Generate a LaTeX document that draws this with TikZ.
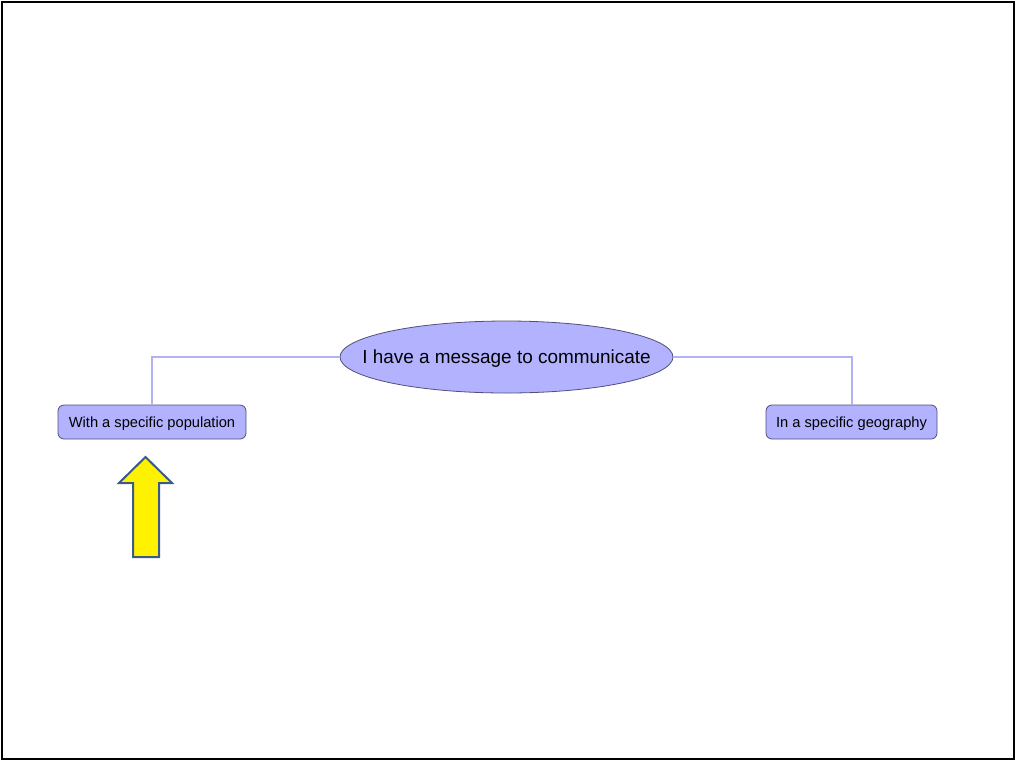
\documentclass[tikz,border=0pt]{standalone}
\usepackage{fontspec}
\setmainfont{Liberation Sans}
\usetikzlibrary{shapes.geometric}
\definecolor{bubble}{RGB}{178,178,255}
\definecolor{bubbleedge}{RGB}{80,80,120}
\definecolor{linkline}{RGB}{178,178,245}
\definecolor{arrowedge}{RGB}{60,90,130}
% text of fixed-size shapes: zero size, centred on the shape's middle
\newcommand{\flatlabel}[1]{\raisebox{-0.36em}[0pt][0pt]{\makebox[0pt]{#1}}}
\begin{document}
\begin{tikzpicture}[x=0.75pt,y=-0.75pt,
  topic/.style={ellipse,draw=bubbleedge,fill=bubble,line width=0.6pt,inner sep=0pt,
    minimum width=249.75pt,minimum height=54pt,font=\fontsize{14.2pt}{17pt}\selectfont},
  leaf/.style={rectangle,rounded corners=4.5pt,draw=bubbleedge,fill=bubble,line width=0.6pt,
    inner sep=0pt,minimum height=25.5pt,font=\fontsize{11pt}{13pt}\selectfont},
  link/.style={draw=linkline,line width=1.5pt}]
\useasboundingbox (0,0) rectangle (1016,761);
\draw[line width=1.5pt] (1.7,1.7) rectangle (1013.6,759.3);
% branch corners
\coordinate (lc) at (152,357);
\coordinate (rc) at (851.5,357);
\node[topic] (root) at (506.5,357) {\flatlabel{I have a message to communicate}};
\node[leaf,minimum width=141pt] (pop) at (152,422) {\flatlabel{With a specific population}};
\node[leaf,minimum width=128.25pt] (geo) at (851.5,422) {\flatlabel{In a specific geography}};
\draw[link] (root.west) -- (lc) -- (pop.north);
\draw[link] (root.east) -- (rc) -- (geo.north);
% highlight arrow
\draw[fill=yellow,draw=arrowedge,line width=1.5pt,line join=miter]
  (145.5,457) -- (172,483) -- (159,483) -- (159,557) -- (133,557) -- (133,483) -- (119,483) -- cycle;
\end{tikzpicture}
\end{document}
